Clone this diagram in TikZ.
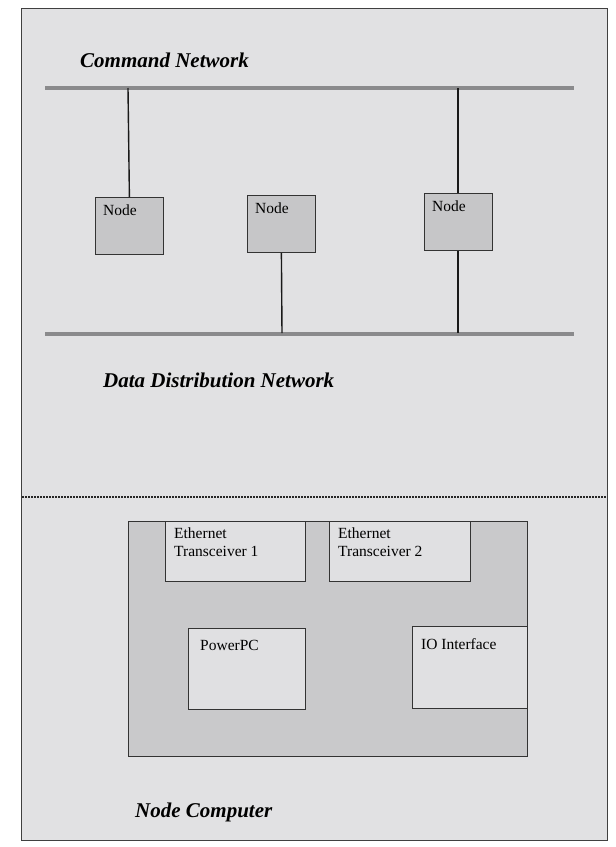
\documentclass[tikz,border=0pt]{standalone}
\usepackage{fontspec}
\setmainfont{Liberation Serif}
\begin{document}
\begin{tikzpicture}[x=1pt,y=-1pt,
  box/.style={draw=black!80, line width=0.8pt, inner sep=0pt, anchor=north west},
  netbox/.style={box, fill=nodegray},
  inbox/.style={box, fill=innergray},
  lbl/.style={anchor=north west, inner sep=0pt, font=\fontsize{15.5}{17.5}\selectfont, align=left},
  title/.style={anchor=west, inner sep=0pt, font=\fontsize{21}{24}\selectfont\bfseries\itshape},
  bus/.style={line width=4.5pt, draw=busgray},
  wire/.style={line width=1.4pt, draw=black!90}]
\definecolor{bggray}{HTML}{E1E1E3}
\definecolor{nodegray}{HTML}{C6C6C8}
\definecolor{compgray}{HTML}{C9C9CB}
\definecolor{innergray}{HTML}{E0E0E2}
\definecolor{busgray}{HTML}{8A8A8C}
\useasboundingbox (0,0) rectangle (616,847);
\fill[white] (0,0) rectangle (616,847);
\draw[fill=bggray, draw=black!75, line width=0.8pt] (21,8) rectangle (607,840);

% Command network
\node[title] (cmd) at (80,60) {Command Network};
\coordinate (cb1) at (45,88);
\coordinate (cb2) at (574,88);
\draw[bus] (cb1) -- (cb2);

% Data distribution network
\coordinate (db1) at (45,334);
\coordinate (db2) at (574,334);
\draw[bus] (db1) -- (db2);
\node[title] (ddn) at (103,380) {Data Distribution Network};

% Nodes
\node[netbox, minimum width=68pt, minimum height=57pt] (n1) at (95,197) {};
\node[netbox, minimum width=68pt, minimum height=57pt] (n2) at (247,195) {};
\node[netbox, minimum width=68pt, minimum height=57pt] (n3) at (424,193) {};
\node[lbl] (t1) at ([shift={(8,8)}]n1.north west) {Node};
\node[lbl] (t2) at ([shift={(8,8)}]n2.north west) {Node};
\node[lbl] (t3) at ([shift={(8,8)}]n3.north west) {Node};

\coordinate (c1) at (128,88);
\coordinate (c3) at (458,88);
\coordinate (d2) at (282,333);
\coordinate (d3) at (458,333);
\draw[wire] (c1) -- (n1.north);
\draw[wire] (c3) -- (c3 |- n3.north);
\draw[wire] (n2.south) -- (d2);
\draw[wire] (d3 |- n3.south) -- (d3);

% dotted separator
\coordinate (s1) at (22,497);
\coordinate (s2) at (607,497);
\draw[line width=2pt, dash pattern=on 1.6pt off 1.4pt, draw=black!85] (s1) -- (s2);

% Node computer
\node[box, fill=compgray, minimum width=399pt, minimum height=235pt] (nc) at (128,521) {};
\node[inbox, minimum width=140pt, minimum height=60pt] (e1) at (165,521) {};
\node[inbox, minimum width=141pt, minimum height=60pt] (e2) at (329,521) {};
\node[inbox, minimum width=117pt, minimum height=81pt] (pp) at (188,628) {};
\node[inbox, minimum width=115pt, minimum height=82pt] (io) at (412,626) {};
\node[lbl] (te1) at ([shift={(9,7)}]e1.north west) {Ethernet\\Transceiver 1};
\node[lbl] (te2) at ([shift={(9,7)}]e2.north west) {Ethernet\\Transceiver 2};
\node[lbl] (tpp) at ([shift={(12,12)}]pp.north west) {PowerPC};
\node[lbl] (tio) at ([shift={(9,12)}]io.north west) {IO Interface};
\node[title] (ncl) at (135,812) {Node Computer};
\end{tikzpicture}
\end{document}
